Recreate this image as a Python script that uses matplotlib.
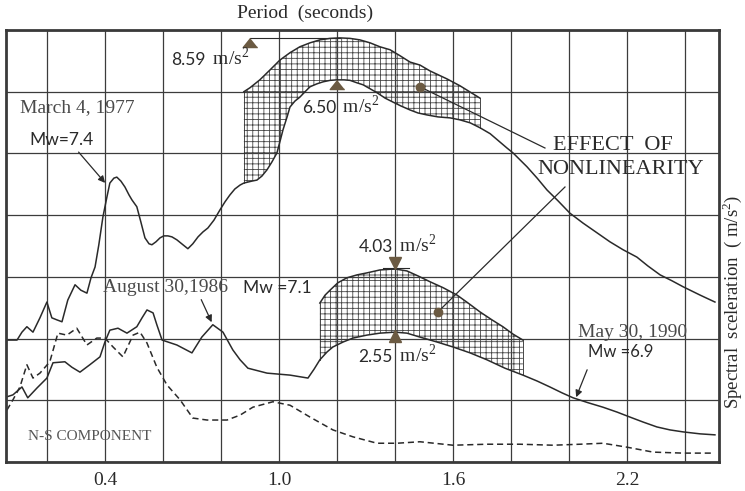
import numpy as np
import matplotlib.pyplot as plt
from matplotlib.ticker import MultipleLocator

plt.rcParams['font.family'] = ['Liberation Serif', 'DejaVu Serif']
plt.rcParams['mathtext.fontset'] = 'custom'
plt.rcParams['mathtext.rm'] = 'Liberation Serif'
plt.rcParams['hatch.linewidth'] = 0.6

# period (s) vs spectral acceleration (m/s^2), N-S component
t_1977 = [0.062, 0.097, 0.114, 0.131, 0.152, 0.176, 0.200, 0.217, 0.234, 0.252,
          0.272, 0.297, 0.317, 0.338, 0.352, 0.366, 0.379, 0.393, 0.407, 0.417,
          0.431, 0.441, 0.455, 0.469, 0.483, 0.493, 0.510, 0.524, 0.538, 0.552,
          0.562, 0.576, 0.590, 0.603, 0.617, 0.631, 0.648, 0.669, 0.686, 0.703,
          0.721, 0.738, 0.755, 0.776, 0.797, 0.814, 0.831, 0.848, 0.866, 0.879,
          0.893, 0.907, 0.924, 0.941, 0.959, 0.976, 0.993, 1.003, 1.014, 1.028,
          1.038, 1.055, 1.072, 1.090, 1.107, 1.131, 1.152, 1.176, 1.200, 1.224,
          1.245, 1.269, 1.290, 1.314, 1.338, 1.366, 1.393, 1.421, 1.452, 1.479,
          1.510, 1.548, 1.590, 1.624, 1.659, 1.693, 1.728, 1.762, 1.786, 1.807,
          1.831, 1.855, 1.890, 1.924, 1.962, 2.003, 2.048, 2.097, 2.141, 2.186,
          2.234, 2.272, 2.314, 2.355, 2.393, 2.452, 2.503]
sa_1977 = [2.47, 2.47, 2.63, 2.74, 2.63, 2.92, 3.24, 2.92, 2.88, 2.84,
           3.28, 3.59, 3.48, 3.42, 3.73, 3.95, 4.40, 4.96, 5.37, 5.65,
           5.75, 5.77, 5.69, 5.57, 5.41, 5.31, 5.17, 4.86, 4.54, 4.42,
           4.40, 4.46, 4.54, 4.58, 4.58, 4.56, 4.50, 4.40, 4.32, 4.42,
           4.56, 4.66, 4.74, 4.90, 5.11, 5.27, 5.41, 5.53, 5.61, 5.65,
           5.67, 5.69, 5.71, 5.79, 5.92, 6.08, 6.26, 6.48, 6.73, 6.99,
           7.19, 7.31, 7.39, 7.50, 7.60, 7.66, 7.70, 7.73, 7.74, 7.74,
           7.73, 7.68, 7.64, 7.56, 7.48, 7.37, 7.29, 7.21, 7.13, 7.07,
           7.03, 6.99, 6.97, 6.93, 6.87, 6.77, 6.65, 6.48, 6.36, 6.26,
           6.12, 5.98, 5.75, 5.51, 5.29, 5.04, 4.84, 4.64, 4.46, 4.30,
           4.15, 3.97, 3.79, 3.67, 3.55, 3.38, 3.24]

t_1986 = [0.062, 0.083, 0.114, 0.134, 0.166, 0.200, 0.221, 0.262, 0.286, 0.314,
          0.348, 0.383, 0.400, 0.417, 0.445, 0.476, 0.510, 0.528, 0.545, 0.566,
          0.579, 0.597, 0.648, 0.700, 0.734, 0.772, 0.807, 0.841, 0.866, 0.893,
          0.959, 1.038, 1.100, 1.121, 1.141, 1.166, 1.186, 1.221, 1.255, 1.303,
          1.348, 1.400, 1.441, 1.486, 1.545, 1.600, 1.659, 1.717, 1.779, 1.841,
          1.890, 1.934, 1.976, 2.014, 2.066, 2.117, 2.166, 2.210, 2.255, 2.303,
          2.348, 2.393, 2.452, 2.503]
sa_1986 = [1.32, 1.36, 1.52, 1.30, 1.50, 1.70, 2.01, 2.03, 1.92, 1.82,
           1.97, 2.13, 2.43, 2.67, 2.71, 2.61, 2.74, 2.92, 3.08, 3.02,
           2.78, 2.47, 2.37, 2.21, 2.53, 2.78, 2.63, 2.27, 2.07, 1.90,
           1.80, 1.76, 1.70, 1.88, 2.07, 2.23, 2.33, 2.43, 2.51, 2.57,
           2.61, 2.63, 2.61, 2.53, 2.43, 2.33, 2.21, 2.07, 1.90, 1.76,
           1.64, 1.52, 1.40, 1.30, 1.20, 1.11, 1.01, 0.91, 0.81, 0.71,
           0.65, 0.61, 0.57, 0.55]

t_dash = [0.062, 0.083, 0.107, 0.131, 0.152, 0.176, 0.210, 0.238, 0.269, 0.303,
          0.338, 0.372, 0.400, 0.428, 0.462, 0.497, 0.521, 0.545, 0.579, 0.614,
          0.659, 0.703, 0.752, 0.821, 0.866, 0.910, 0.979, 1.038, 1.107, 1.186,
          1.255, 1.338, 1.407, 1.486, 1.600, 1.717, 1.831, 1.945, 2.038, 2.117,
          2.200, 2.290, 2.393, 2.497]
sa_dash = [1.05, 1.26, 1.52, 1.97, 1.70, 1.80, 2.03, 2.61, 2.57, 2.71,
           2.37, 2.51, 2.51, 2.33, 2.13, 2.57, 2.63, 2.41, 1.92, 1.56,
           1.26, 0.89, 0.85, 0.85, 0.95, 1.11, 1.22, 1.15, 0.91, 0.65,
           0.51, 0.38, 0.38, 0.41, 0.34, 0.36, 0.36, 0.34, 0.36, 0.38,
           0.30, 0.20, 0.18, 0.18]

# linear response envelopes (upper edge of the nonlinearity bands)
t_env_1977 = [0.879, 0.900, 0.934, 0.969, 1.003, 1.038, 1.072, 1.107, 1.141, 1.176,
              1.210, 1.245, 1.279, 1.314, 1.348, 1.383, 1.417, 1.452, 1.486, 1.521,
              1.579, 1.624, 1.693]
sa_env_1977 = [7.50, 7.58, 7.74, 7.94, 8.14, 8.29, 8.41, 8.49, 8.55, 8.58,
               8.59, 8.58, 8.55, 8.49, 8.41, 8.35, 8.23, 8.10, 8.04, 7.92,
               7.76, 7.62, 7.37]
t_env_1986 = [1.141, 1.159, 1.176, 1.203, 1.234, 1.269, 1.303, 1.348, 1.400, 1.441,
              1.479, 1.521, 1.566, 1.614, 1.652, 1.693, 1.734, 1.772, 1.807, 1.841]
sa_env_1986 = [3.22, 3.38, 3.48, 3.63, 3.73, 3.79, 3.83, 3.89, 3.91, 3.87,
               3.77, 3.65, 3.53, 3.38, 3.22, 3.04, 2.88, 2.74, 2.59, 2.47]

peak_labels = ['8.59', '6.50', '4.03', '2.55']

ink = '#2a2a2a'
grey = '#4a4a4a'
brown = '#6b5a42'

fig = plt.figure(figsize=(7.45, 4.91), dpi=100)
ax = fig.add_axes([6/745, 29/491, 713/745, 432/491])
ax.set_xlim(0.059, 2.517)
ax.set_ylim(0, 8.75)

ax.set_xticks([0.4, 1.0, 1.6, 2.2])
ax.xaxis.set_minor_locator(MultipleLocator(0.2))
ax.yaxis.set_major_locator(MultipleLocator(1.25))
ax.set_yticklabels([])
ax.tick_params(which='both', length=0, labelsize=14, pad=7, colors=ink)
ax.grid(which='both', color='#3c3c3c', lw=0.9)
ax.set_axisbelow(True)
for s in ax.spines.values():
    s.set_linewidth(2.0)
    s.set_color('#3a3a3a')


def band(t_env, sa_env, t_curve, sa_curve):
    # hatched region between the envelope and the recorded spectrum
    tc = np.array(t_curve)
    sc = np.array(sa_curve)
    m = (tc >= t_env[0] - 1e-9) & (tc <= t_env[-1] + 1e-9)
    xs = np.concatenate([t_env, tc[m][::-1]])
    ys = np.concatenate([sa_env, sc[m][::-1]])
    ax.fill(xs, ys, facecolor='none', edgecolor='#464646', hatch='+++', lw=0)
    ax.plot(t_env, sa_env, color=ink, lw=1.1)
    ax.plot([t_env[0], t_env[0]], [sa_env[0], sc[m][0]], color=ink, lw=0.6)
    ax.plot([t_env[-1], t_env[-1]], [sa_env[-1], sc[m][-1]], color=ink, lw=0.6)


band(t_env_1977, sa_env_1977, t_1977, sa_1977)
band(t_env_1986, sa_env_1986, t_1986, sa_1986)

ax.plot(t_1977, sa_1977, color=ink, lw=1.1)
ax.plot(t_1986, sa_1986, color=ink, lw=1.1)
ax.plot(t_dash, sa_dash, color=ink, lw=1.1, ls=(0, (4, 2.5)))

# peak markers
tri_up = [(0, 0), (-0.8, -1), (0.8, -1)]
i_env = int(np.argmax(sa_env_1977))
ax.plot([0.90, t_env_1977[i_env]], [float(peak_labels[0])] * 2, color=ink, lw=0.8)
ax.plot(0.90, float(peak_labels[0]), marker=tri_up, ms=13, color=brown, ls='none')
i_pk = int(np.argmax(sa_1977))
ax.plot(t_1977[i_pk], sa_1977[i_pk], marker=tri_up, ms=13, color=brown, ls='none')
ax.plot([1.36, 1.45], [3.93, 3.93], color=ink, lw=0.8)
ax.plot(1.40, float(peak_labels[2]), marker='v', ms=8, color=brown, ls='none')
ax.plot(1.40, float(peak_labels[3]), marker='^', ms=8, color=brown, ls='none')


def peak_text(x, y, val):
    ax.text(x, y, val, family='Lato', fontsize=12.5, color=ink, ha='right', va='center')
    ax.text(x + 0.006, y + 0.04, r' m/s$^2$', fontsize=14, color=ink, ha='left', va='center')


peak_text(0.748, 8.14, peak_labels[0])
peak_text(1.197, 7.17, peak_labels[1])
peak_text(1.393, 4.36, peak_labels[2])
peak_text(1.393, 2.13, peak_labels[3])

# event labels
ax.text(0.107, 7.17, 'March 4, 1977', fontsize=14, color=grey, va='center')
ax.text(0.141, 6.52, 'Mw=7.4', family='Lato', fontsize=12.5, color=ink, va='center')
ax.annotate('', xy=(0.407, 5.61), xytext=(0.303, 6.32),
            arrowprops=dict(arrowstyle='-|>', color=ink, lw=0.9, mutation_scale=10))

ax.text(0.393, 3.53, 'August 30,1986', fontsize=14, color=grey, va='center')
ax.text(0.876, 3.53, 'Mw =7.1', family='Lato', fontsize=12.5, color=ink, va='center')
ax.annotate('', xy=(0.772, 2.78), xytext=(0.728, 3.34),
            arrowprops=dict(arrowstyle='-|>', color=ink, lw=0.9, mutation_scale=10))

ax.text(2.031, 2.63, 'May 30, 1990', fontsize=14, color=grey, va='center')
ax.text(2.066, 2.22, 'Mw =6.9', family='Lato', fontsize=12, color=ink, va='center')
ax.annotate('', xy=(2.021, 1.26), xytext=(2.066, 1.92),
            arrowprops=dict(arrowstyle='-|>', color=ink, lw=0.9, mutation_scale=10))

ax.text(1.945, 6.42, 'EFFECT  OF', fontsize=16, color=ink, va='center')
ax.text(1.890, 5.92, 'NONLINEARITY', fontsize=16, color=ink, va='center')
ax.plot([1.486, 1.917], [7.60, 6.36], color=ink, lw=0.9)
ax.plot([1.548, 1.986], [3.04, 5.57], color=ink, lw=0.9)
ax.plot([1.486, 1.548], [7.60, 3.04], 'o', ms=6, color=brown)

ax.text(0.134, 0.51, 'N-S COMPONENT', fontsize=11, color='#555555', va='center')

fig.text(305/745, 1 - 13/491, 'Period  (seconds)', fontsize=14, color=ink,
         ha='center', va='center')
fig.text(732/745, 1 - 302/491, r'Spectral  sceleration  ( m/s$^2$)', fontsize=13.5,
         color=ink, rotation=90, ha='center', va='center')

fig.savefig('out.png', dpi=100)
